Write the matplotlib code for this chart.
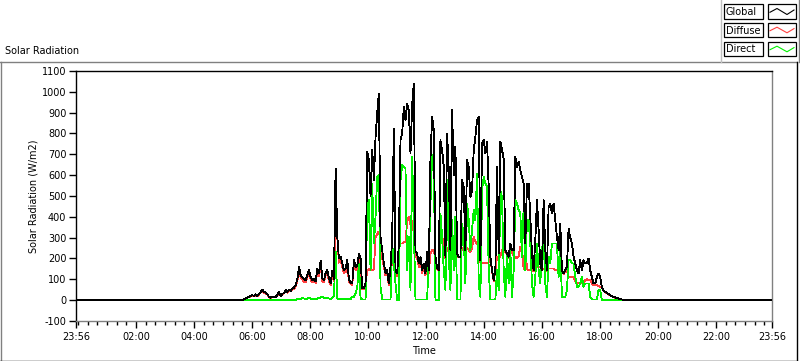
import numpy as np
import matplotlib
matplotlib.use("Agg")
import matplotlib.pyplot as plt
from matplotlib.lines import Line2D
from matplotlib.patches import Rectangle

plt.rcParams['font.family'] = ['DejaVu Sans']

# ---------------- data ----------------
title = "Solar Radiation"
y_label = "Solar Radiation (W/m2)"
x_label = "Time"
series_names = ["Global", "Diffuse", "Direct"]
series_colors = ["#000000", "#ff4040", "#00f000"]

day_start_min = -4        # 23:56 of the previous day
day_end_min = 1436        # 23:56
first_sample_min = 340.3  # 05:40
sample_interval_min = 3.443

global_w = [
    0, 4, 8, 12, 16, 20, 24, 20, 28, 20,
    30, 40, 51, 40, 35, 30, 15, 12, 15, 18,
    15, 25, 40, 20, 30, 35, 48, 40, 50, 45,
    55, 60, 72, 100, 160, 120, 110, 100, 95, 120,
    145, 110, 95, 100, 90, 150, 130, 190, 105, 95,
    130, 145, 105, 80, 140, 100, 632,
    304, 200, 210, 176, 144, 150, 192, 100, 85, 80,
    192, 160, 165, 224, 200, 56, 60, 80, 712, 672,
    500, 720, 576, 784, 896, 992, 304, 240, 176, 128,
    144, 80, 160, 296, 824, 144, 128, 272, 768, 800,
    928, 864, 944, 912, 704, 936, 1040, 232, 224, 176,
    208, 144, 176, 128, 232, 144, 680,
    880, 816, 208, 152, 144, 768, 720, 640, 208, 800,
    624, 240, 912, 600, 736, 224, 208, 208, 576, 544,
    240, 672, 640, 496, 528, 720, 784, 864, 880, 192,
    752, 768, 704, 760, 544, 208, 144, 96, 144, 640,
    224, 760, 720, 680, 240, 224, 208, 272, 240, 240,
    688, 640, 664, 624, 592, 560, 272,
    560, 560, 400, 224, 144, 288, 480, 336, 176, 144,
    480, 240, 144, 448, 464, 416, 464, 384, 304, 240,
    368, 144, 128, 144, 160, 344, 300, 272, 208, 176,
    144, 128, 192, 144, 192, 176, 176, 200, 144, 112,
    80, 80, 112, 128, 112, 64, 48, 40, 35, 30,
    24, 20, 16, 13, 10, 8, 5, 3, 2, 0,
]

diffuse_w = [
    0, 4, 8, 12, 15, 18, 22, 18, 25, 18,
    28, 36, 46, 36, 32, 27, 14, 11, 14, 16,
    14, 23, 36, 18, 27, 32, 44, 36, 45, 41,
    50, 55, 65, 90, 150, 105, 100, 88, 85, 110,
    135, 98, 85, 92, 82, 140, 115, 175, 90, 85,
    118, 130, 92, 72, 125, 90, 320,
    300, 180, 190, 160, 130, 135, 170, 90, 78, 72,
    170, 145, 150, 200, 180, 52, 55, 72, 144, 150,
    144, 144, 150, 300, 320, 330, 280, 200, 160, 118,
    130, 72, 145, 176, 176, 130, 115, 250, 272, 272,
    280, 280, 380, 400, 360, 380, 320, 215, 200, 160,
    190, 130, 160, 118, 215, 130, 224,
    240, 240, 200, 150, 140, 304, 300, 290, 200, 250,
    240, 230, 272, 272, 280, 216, 205, 205, 250, 240,
    230, 250, 240, 230, 250, 304, 280, 272, 260, 180,
    180, 176, 180, 176, 180, 200, 140, 92, 140, 208,
    210, 208, 240, 250, 230, 220, 200, 240, 230, 210,
    208, 200, 210, 256, 250, 150, 256,
    150, 144, 144, 144, 140, 160, 160, 160, 160, 144,
    152, 152, 140, 152, 152, 152, 152, 144, 144, 144,
    144, 140, 125, 140, 144, 112, 112, 112, 112, 90,
    85, 80, 80, 82, 85, 96, 100, 96, 96, 80,
    72, 72, 72, 68, 64, 60, 46, 38, 33, 28,
    23, 19, 15, 12, 9, 7, 5, 3, 2, 0,
]

direct_w = [
    0, 0, 0, 0, 0, 0, 0, 0, 0, 0,
    0, 0, 0, 0, 0, 0, 0, 0, 0, 0,
    0, 0, 0, 0, 0, 0, 0, 0, 0, 0,
    0, 0, 0, 5, 8, 6, 10, 8, 6, 8,
    10, 8, 6, 8, 5, 8, 10, 12, 18, 12,
    10, 10, 8, 6, 10, 20, 232,
    8, 6, 5, 5, 5, 5, 5, 5, 5, 16,
    16, 32, 60, 176, 10, 3, 3, 3, 464, 480,
    144, 560, 272, 400, 592, 600, 64, 3, 3, 3,
    3, 3, 3, 272, 176, 80, 0, 0, 576, 650,
    640, 630, 144, 304, 48, 688, 336, 3, 3, 3,
    3, 3, 3, 3, 3, 208, 464,
    696, 680, 0, 0, 0, 416, 304, 144, 48, 576,
    208, 48, 384, 144, 400, 3, 3, 3, 368, 304,
    80, 464, 384, 240, 336, 432, 384, 608, 80, 16,
    528, 592, 560, 544, 144, 3, 3, 3, 3, 144,
    48, 528, 496, 144, 16, 224, 80, 240, 16, 144,
    480, 464, 432, 416, 208, 448, 144,
    384, 384, 272, 80, 16, 112, 272, 144, 80, 240,
    304, 80, 16, 208, 176, 272, 272, 272, 272, 112,
    256, 16, 16, 16, 48, 192, 192, 176, 176, 112,
    64, 64, 80, 112, 64, 80, 80, 80, 16, 3,
    3, 3, 3, 48, 48, 0, 0, 0, 0, 0,
    0, 0, 0, 0, 0, 0, 0, 0, 0, 0,
]

y_ticks = list(range(-100, 1101, 100))
x_major_hours = [2, 4, 6, 8, 10, 12, 14, 16, 18, 20, 22]
x_major_labels = ["02:00", "04:00", "06:00", "08:00", "10:00", "12:00",
                  "14:00", "16:00", "18:00", "20:00", "22:00"]
edge_label = "23:56"

# ---------------- build ----------------
n = len(global_w)
if len(diffuse_w) != n or len(direct_w) != n:
    raise ValueError(f"length mismatch {n} {len(diffuse_w)} {len(direct_w)}")

t_hours = (first_sample_min + sample_interval_min * np.arange(n)) / 60.0
t_global = np.concatenate([[day_start_min / 60.0], t_hours, [day_end_min / 60.0]])
g_full = np.concatenate([[0], global_w, [0]])

W, H = 800, 361
fig = plt.figure(figsize=(W / 100, H / 100), dpi=100)
fig.patch.set_facecolor("white")


def fx(px):
    return px / W


def fy(py):
    return 1 - py / H


FS = 7
LW = 0.6

ax = fig.add_axes([fx(76), fy(321), (772 - 76) / W, (321 - 71) / H])
ax.plot(t_hours, diffuse_w, color=series_colors[1], lw=LW, zorder=2,
        antialiased=False)
ax.plot(t_hours, direct_w, color=series_colors[2], lw=LW, zorder=3,
        antialiased=False)
ax.plot(t_global, g_full, color=series_colors[0], lw=LW, zorder=4,
        antialiased=False)

x0, x1 = day_start_min / 60.0, day_end_min / 60.0
ax.set_xlim(x0, x1)
ax.set_ylim(-100, 1100)

ax.set_yticks(y_ticks)
ax.set_yticklabels([str(v) for v in y_ticks], fontsize=FS)
ax.set_xticks([x0] + x_major_hours + [x1])
ax.set_xticklabels([edge_label] + x_major_labels + [edge_label], fontsize=FS)
ax.set_xticks(np.arange(0, 24, 1 / 3.0), minor=True)

ax.tick_params(axis="y", direction="out", length=5, width=1, pad=2, colors="black")
ax.tick_params(axis="x", which="major", direction="out", length=5, width=1, pad=3)
ax.tick_params(axis="x", which="minor", direction="out", length=3, width=1)

for side in ("left", "top"):
    ax.spines[side].set_color("black")
    ax.spines[side].set_linewidth(1)
for side in ("bottom", "right"):
    ax.spines[side].set_color("#808080")
    ax.spines[side].set_linewidth(1)

ax.set_ylabel(y_label, fontsize=FS)
ax.yaxis.set_label_coords((38 - 76) / (772 - 76), 0.5)
ax.set_xlabel(x_label, fontsize=FS)
ax.xaxis.set_label_coords(0.5, -(346 - 321) / (321 - 71))

# title
fig.text(fx(5), fy(51), title, fontsize=FS, ha="left", va="center")


# outer frame
def fline(xa, ya, xb, yb, color, lw=1.0):
    fig.add_artist(Line2D([fx(xa), fx(xb)], [fy(ya), fy(yb)], color=color,
                          lw=lw, transform=fig.transFigure))


fline(0, 61.5, 797, 61.5, "#808080")
fline(0.5, 61.5, 0.5, 361, "#808080")
fline(796.5, 61.5, 796.5, 361, "black")
fline(0, 360.5, 797, 360.5, "black")
# legend panel edges
fline(720.5, 0, 720.5, 61.5, "#c0c0c0")
fline(798.5, 0, 798.5, 61.5, "#808080")

# legend
rows = [(4, 19), (23, 37), (42, 56)]
for name, color, (ya, yb) in zip(series_names, series_colors, rows):
    fig.add_artist(Rectangle((fx(724), fy(yb)), (763 - 724) / W, (yb - ya) / H,
                             transform=fig.transFigure, fill=False,
                             edgecolor="black", lw=0.9))
    fig.text(fx(726), fy((ya + yb) / 2 + 0.5), name, fontsize=FS,
             ha="left", va="center")
    fig.add_artist(Rectangle((fx(768), fy(yb)), (796 - 768) / W, (yb - ya) / H,
                             transform=fig.transFigure, fill=False,
                             edgecolor="black", lw=0.9))
    h = yb - ya
    zx = [770, 777, 787, 794]
    zy = [ya + 0.55 * h, ya + 0.3 * h, ya + 0.7 * h, ya + 0.4 * h]
    fig.add_artist(Line2D([fx(v) for v in zx], [fy(v) for v in zy],
                          color=color, lw=0.8, transform=fig.transFigure))

fig.savefig("out.png", dpi=100, facecolor="white")
